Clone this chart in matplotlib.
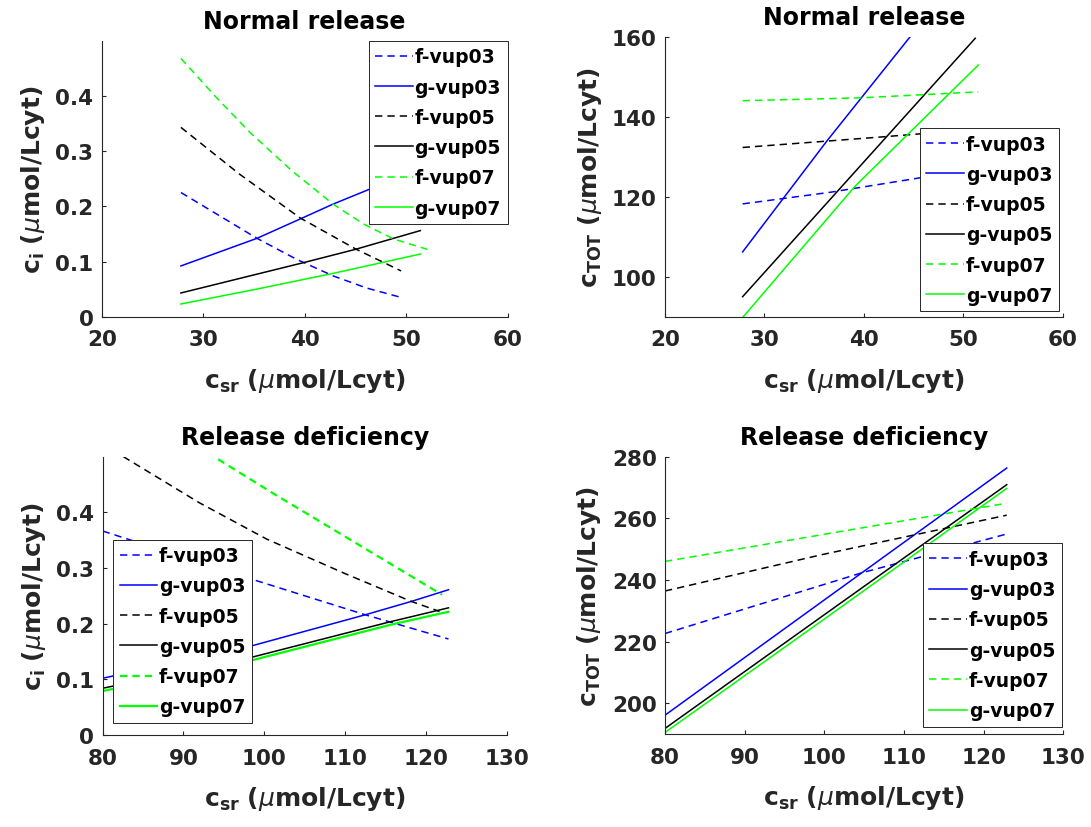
import matplotlib
matplotlib.use('Agg')
import matplotlib.pyplot as plt
from matplotlib.ticker import FuncFormatter

plt.rcParams['font.family'] = 'DejaVu Sans'
plt.rcParams['font.weight'] = 'bold'
plt.rcParams['mathtext.fontset'] = 'custom'
plt.rcParams['mathtext.rm'] = 'DejaVu Sans:bold'
plt.rcParams['mathtext.bf'] = 'DejaVu Sans:bold'
plt.rcParams['mathtext.it'] = 'DejaVu Sans:italic:weight=normal'

labels = ['f-vup03', 'g-vup03', 'f-vup05', 'g-vup05', 'f-vup07', 'g-vup07']
colors = ['b', 'b', 'k', 'k', (0, 1, 0), (0, 1, 0)]
styles = ['--', '-', '--', '-', '--', '-']

# Normal release, free Ca (ci)
nr_ci_f03_x = [27.8, 35.3, 39.2, 42.8, 46.1, 49.5]
nr_ci_f03 = [0.225, 0.142, 0.104, 0.074, 0.052, 0.035]
nr_ci_g03_x = [27.8, 35.3, 39.55, 42.8, 46.4, 51.4]
nr_ci_g03 = [0.092, 0.142, 0.177, 0.204, 0.231, 0.275]
nr_ci_f05_x = [27.8, 33.6, 39.55, 45.0, 49.5]
nr_ci_f05 = [0.343, 0.258, 0.179, 0.123, 0.083]
nr_ci_g05_x = [27.8, 39.9, 45.0, 51.4]
nr_ci_g05 = [0.043, 0.098, 0.122, 0.156]
nr_ci_f07_x = [27.8, 31.2, 34.6, 38.7, 42.8, 45.8, 48.75, 52.1]
nr_ci_f07 = [0.468, 0.399, 0.334, 0.265, 0.204, 0.168, 0.141, 0.122]
nr_ci_g07_x = [27.8, 35.0, 42.8, 51.4]
nr_ci_g07 = [0.023, 0.049, 0.0785, 0.1135]

# Normal release, total Ca (cTOT)
nr_tot_f03_x = [27.8, 36.6, 45.6, 51.5]
nr_tot_f03 = [118.2, 121.1, 124.7, 127.2]
nr_tot_g03_x = [27.8, 36.3, 51.5]
nr_tot_g03 = [106.2, 134.0, 181.3]
nr_tot_f05_x = [27.8, 41.6, 45.6, 51.5]
nr_tot_f05 = [132.3, 134.9, 135.7, 136.7]
nr_tot_g05_x = [27.8, 40.0, 51.2]
nr_tot_g05 = [95.0, 128.7, 159.6]
nr_tot_f07_x = [27.8, 39.6, 51.5]
nr_tot_f07 = [144.0, 144.7, 146.2]
nr_tot_g07_x = [27.8, 39.1, 51.5]
nr_tot_g07 = [89.8, 122.6, 152.9]

# Release deficiency, free Ca (ci)
rd_ci_f03_x = [80, 99.1, 112.5, 122.8]
rd_ci_f03 = [0.3665, 0.277, 0.216, 0.1725]
rd_ci_g03_x = [80, 98.4, 112.5, 118.2, 122.8]
rd_ci_g03 = [0.102, 0.160, 0.216, 0.240, 0.261]
rd_ci_f05_x = [80, 82.8, 92, 100.3, 110, 118.2, 121.7]
rd_ci_f05 = [0.525, 0.498, 0.417, 0.352, 0.290, 0.240, 0.222]
rd_ci_g05_x = [80, 98.4, 115.6, 122.8]
rd_ci_g05 = [0.084, 0.1395, 0.2035, 0.2285]
rd_ci_f07_x = [80, 94, 101, 108, 115, 122]
rd_ci_f07 = [0.625, 0.498, 0.435, 0.374, 0.313, 0.252]
rd_ci_g07_x = [80, 98.4, 115.6, 122.8]
rd_ci_g07 = [0.079, 0.134, 0.198, 0.2215]

# Release deficiency, total Ca (cTOT)
rd_tot_f03_x = [80, 104.7, 122.9]
rd_tot_f03 = [222.6, 242.3, 254.9]
rd_tot_g03_x = [80, 100, 122.9]
rd_tot_g03 = [196.1, 233.5, 276.3]
rd_tot_f05_x = [80, 99.7, 122.9]
rd_tot_f05 = [236.4, 248.2, 261.0]
rd_tot_g05_x = [80, 100, 122.9]
rd_tot_g05 = [191.8, 228.7, 270.9]
rd_tot_f07_x = [80, 100, 122.9]
rd_tot_f07 = [246.0, 254.8, 264.9]
rd_tot_g07_x = [80, 100, 122.9]
rd_tot_g07 = [190.5, 227.3, 269.7]

ci_label = r'$\mathrm{c}_{\mathrm{i}}\ (\mu\mathrm{mol/Lcyt})$'
tot_label = r'$\mathrm{c}_{\mathrm{TOT}}\ (\mu\mathrm{mol/Lcyt})$'
sr_label = r'$\mathrm{c}_{\mathrm{sr}}\ (\mu\mathrm{mol/Lcyt})$'

dark = '#262626'


def panel(ax, xs, ys, title, ylabel, xlim, ylim, yticks, loc, anchor, green_lw=1.1):
    for x, y, lab, c, ls in zip(xs, ys, labels, colors, styles):
        lw = green_lw if c == (0, 1, 0) else 1.1
        if ls == '--':
            ax.plot(x, y, color=c, lw=lw, dashes=(4.8 * 1.1 / lw, 3.3 * 1.1 / lw), label=lab)
        else:
            ax.plot(x, y, color=c, lw=lw, label=lab)
    ax.set_xlim(xlim)
    ax.set_xticks(range(xlim[0], xlim[1] + 1, 10))
    ax.set_ylim(ylim)
    ax.set_yticks(yticks)
    ax.yaxis.set_major_formatter(FuncFormatter(lambda v, p: '{:g}'.format(round(v, 6))))
    ax.spines[['top', 'right']].set_visible(False)
    for s in ['left', 'bottom']:
        ax.spines[s].set_color(dark)
        ax.spines[s].set_linewidth(0.8)
    ax.tick_params(direction='in', length=2.8, width=0.8, colors=dark, labelsize=15.5)
    ax.tick_params(axis='x', pad=9)
    ax.tick_params(axis='y', pad=6)
    ax.set_title(title, fontsize=17, fontweight='bold', pad=9.2, color='k')
    ax.set_xlabel(sr_label, fontsize=18, color=dark, labelpad=12)
    ax.set_ylabel(ylabel, fontsize=18, color=dark, labelpad=6)
    leg = ax.legend(loc=loc, bbox_to_anchor=anchor, borderaxespad=0, fontsize=13.5,
                    handlelength=2.0, handletextpad=0.1, labelspacing=0.6,
                    borderpad=0.35, fancybox=False, framealpha=1, edgecolor=dark)
    leg.get_frame().set_linewidth(0.7)


fig = plt.figure(figsize=(10.91, 8.28), dpi=100)
ax1 = fig.add_axes([0.0933, 0.6163, 0.3719, 0.3333])
ax2 = fig.add_axes([0.6096, 0.6163, 0.3645, 0.3382])
ax3 = fig.add_axes([0.0941, 0.1111, 0.3703, 0.3361])
ax4 = fig.add_axes([0.6095, 0.1123, 0.3651, 0.3350])

panel(ax1,
      [nr_ci_f03_x, nr_ci_g03_x, nr_ci_f05_x, nr_ci_g05_x, nr_ci_f07_x, nr_ci_g07_x],
      [nr_ci_f03, nr_ci_g03, nr_ci_f05, nr_ci_g05, nr_ci_f07, nr_ci_g07],
      'Normal release', ci_label, (20, 60), (0, 0.5), [0, 0.1, 0.2, 0.3, 0.4],
      'upper right', (1.0, 1.0))
panel(ax2,
      [nr_tot_f03_x, nr_tot_g03_x, nr_tot_f05_x, nr_tot_g05_x, nr_tot_f07_x, nr_tot_g07_x],
      [nr_tot_f03, nr_tot_g03, nr_tot_f05, nr_tot_g05, nr_tot_f07, nr_tot_g07],
      'Normal release', tot_label, (20, 60), (90, 160), [100, 120, 140, 160],
      'lower right', (0.990, 0.019))
panel(ax3,
      [rd_ci_f03_x, rd_ci_g03_x, rd_ci_f05_x, rd_ci_g05_x, rd_ci_f07_x, rd_ci_g07_x],
      [rd_ci_f03, rd_ci_g03, rd_ci_f05, rd_ci_g05, rd_ci_f07, rd_ci_g07],
      'Release deficiency', ci_label, (80, 130), (0, 0.5), [0, 0.1, 0.2, 0.3, 0.4],
      'lower left', (0.026, 0.043), green_lw=1.6)
panel(ax4,
      [rd_tot_f03_x, rd_tot_g03_x, rd_tot_f05_x, rd_tot_g05_x, rd_tot_f07_x, rd_tot_g07_x],
      [rd_tot_f03, rd_tot_g03, rd_tot_f05, rd_tot_g05, rd_tot_f07, rd_tot_g07],
      'Release deficiency', tot_label, (80, 130), (190, 280), [200, 220, 240, 260, 280],
      'lower right', (0.996, 0.026))

fig.savefig('out.png', dpi=100)
